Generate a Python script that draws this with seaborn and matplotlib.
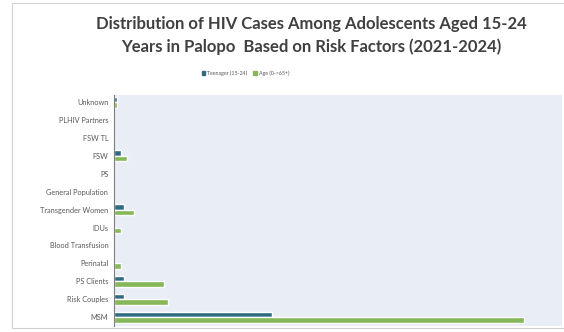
import matplotlib
matplotlib.use("Agg")
import matplotlib.pyplot as plt
from matplotlib.patches import Rectangle
import seaborn as sns
import pandas as pd

categories = ["Unknown", "PLHIV Partners", "FSW TL", "FSW", "PS", "General Population",
              "Transgender Women", "IDUs", "Blood Transfusion", "Perinatal", "PS Clients",
              "Risk Couples", "MSM"]
teenager = [1, 0, 0, 2, 0, 0, 3, 0, 0, 0, 3, 3, 47]
all_ages = [1, 0, 0, 4, 0, 0, 6, 2, 0, 2, 15, 16, 122]
series_names = ["Teenager (15-24)", "Age (0->65+)"]

df = pd.DataFrame({
    "category": categories * 2,
    "cases": teenager + all_ages,
    "group": [series_names[0]] * len(categories) + [series_names[1]] * len(categories),
})

sns.set_theme(style="white")
plt.rcParams["font.family"] = ["Lato", "DejaVu Sans"]

fig = plt.figure(figsize=(5.64, 3.32), dpi=100)
ax = fig.add_axes([0.202, 0.018, 0.795, 0.696])

sns.barplot(data=df, y="category", x="cases", hue="group", order=categories,
            hue_order=series_names, palette=["#2f6b80", "#86b85a"],
            orient="h", width=0.62, ax=ax, legend=False, saturation=1)

ax.set_facecolor("#e9eef6")
ax.set_xlim(0, 133.5)
ax.set_ylim(12.5, -0.4)
ax.set_xlabel("")
ax.set_ylabel("")
ax.set_xticks([])
for s in ["top", "right", "bottom"]:
    ax.spines[s].set_visible(False)
ax.spines["left"].set_color("#7f7f7f")
ax.spines["left"].set_linewidth(0.8)
ax.tick_params(axis="y", length=0, labelsize=5.3, labelcolor="#595959", pad=4)

fig.text(0.552, 0.928, "Distribution of HIV Cases Among Adolescents Aged 15-24",
         ha="center", va="center", fontsize=12, fontweight="bold", color="#404040")
fig.text(0.552, 0.858, "Years in Palopo  Based on Risk Factors (2021-2024)",
         ha="center", va="center", fontsize=12, fontweight="bold", color="#404040")

handles = [Rectangle((0, 0), 1, 1, color="#2f6b80"), Rectangle((0, 0), 1, 1, color="#86b85a")]
fig.legend(handles, series_names, loc="center", bbox_to_anchor=(0.435, 0.78), ncol=2,
           frameon=False, fontsize=3.8, labelcolor="#595959", handlelength=0.7,
           handleheight=0.7, handletextpad=0.3, columnspacing=1.2)

fig.patches.append(Rectangle((0.021, 0.012), 1.0, 0.98, transform=fig.transFigure,
                             fill=False, edgecolor="#d0d0d0", linewidth=0.8))

fig.savefig("out.png", dpi=100)
